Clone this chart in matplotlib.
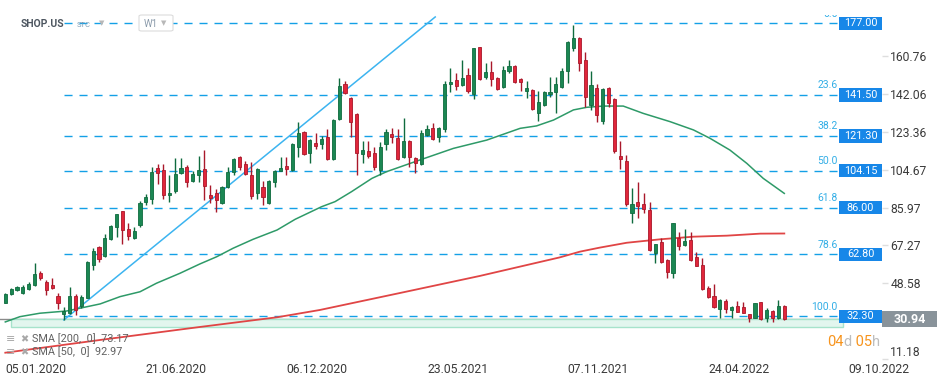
import matplotlib
matplotlib.use('Agg')
import matplotlib.pyplot as plt
from matplotlib.patches import Rectangle, FancyBboxPatch
from matplotlib.transforms import blended_transform_factory
import numpy as np

plt.rcParams['font.family'] = ['Roboto', 'DejaVu Sans']

# weekly candles, SHOP.US, first week 05.01.2020
opens = [39.0, 43.2, 45.1, 43.8, 45.9, 47.6, 53.7, 49.1, 47.7, 42.3,
         33.3, 33.8, 42.3, 37.2, 41.5, 57.8, 66.4, 61.9, 70.3, 76.5,
         84.3, 75.4, 71.1, 77.2, 88.7, 90.2, 105.4, 104.4, 92.0, 94.2,
         103.0, 105.9, 99.2, 102.1, 105.0, 92.2, 93.2, 88.1, 96.3, 103.4,
         110.8, 107.5, 102.1, 93.0, 96.1, 88.1, 98.5, 104.2, 106.5, 104.5,
         115.7, 123.3, 113.1, 117.9, 117.4, 120.7, 110.1, 129.7, 147.0, 140.2,
         132.2, 112.3, 114.1, 112.8, 104.5, 117.2, 122.3, 120.2, 110.8, 118.9,
         110.6, 107.5, 121.8, 125.1, 120.7, 124.6, 146.9, 149.0, 146.5, 151.4,
         142.1, 165.1, 150.3, 152.8, 149.8, 145.7, 153.6, 155.9, 149.3, 143.7,
         144.0, 132.5, 136.8, 142.1, 142.9, 145.7, 153.6, 164.6, 169.6, 158.9,
         136.6, 144.9, 128.9, 144.9, 139.6, 111.4, 109.0, 83.2, 88.9, 87.7,
         84.8, 63.4, 69.1, 60.1, 53.5, 70.8, 67.5, 70.0, 61.4, 57.6,
         46.4, 42.3, 35.7, 39.8, 35.4, 37.5, 37.0, 33.4, 31.6, 39.2,
         31.3, 34.9, 31.3, 37.5]
highs = [43.6, 46.2, 47.2, 47.5, 49.1, 58.6, 54.6, 50.2, 51.2, 43.8,
         37.0, 46.8, 43.5, 42.8, 59.5, 66.0, 66.8, 72.9, 77.4, 83.0,
         84.5, 78.4, 76.2, 89.2, 92.5, 105.9, 107.5, 107.5, 102.1, 110.5,
         110.5, 107.0, 104.2, 111.4, 114.4, 97.1, 95.0, 96.8, 105.9, 110.5,
         111.2, 109.1, 108.6, 105.5, 99.0, 99.6, 104.3, 110.8, 110.8, 117.9,
         128.2, 123.8, 119.7, 122.8, 121.2, 124.8, 129.7, 149.8, 148.6, 140.7,
         132.8, 118.9, 118.9, 116.0, 118.5, 124.8, 125.1, 124.8, 130.1, 119.3,
         111.0, 124.3, 126.7, 127.6, 125.6, 148.5, 154.9, 152.3, 158.9, 155.1,
         165.0, 165.5, 157.2, 158.4, 150.3, 156.0, 158.9, 156.4, 150.1, 148.5,
         144.5, 143.7, 143.4, 150.3, 150.3, 155.1, 168.0, 176.3, 170.4, 162.8,
         153.4, 147.0, 144.8, 145.7, 140.0, 119.0, 111.9, 95.5, 98.5, 93.0,
         88.6, 68.2, 70.8, 60.5, 78.6, 73.8, 75.4, 73.8, 63.9, 60.9,
         47.4, 48.1, 40.7, 40.7, 37.3, 39.8, 39.2, 33.6, 39.0, 39.5,
         36.5, 35.2, 40.3, 37.9]
lows = [38.7, 42.9, 44.8, 43.4, 45.4, 47.4, 50.4, 42.8, 45.8, 35.9,
        30.5, 33.4, 33.1, 36.2, 41.2, 55.1, 59.1, 61.6, 69.9, 71.4,
        68.1, 70.0, 70.5, 76.4, 87.1, 87.9, 97.5, 90.4, 88.6, 93.0,
        102.6, 96.3, 98.6, 98.8, 89.7, 88.1, 83.9, 87.6, 95.5, 102.1,
        104.5, 101.9, 90.2, 90.2, 87.1, 87.6, 96.3, 103.9, 101.9, 104.1,
        110.8, 112.1, 107.8, 114.8, 114.9, 109.4, 109.7, 129.0, 142.2, 120.7,
        102.1, 107.8, 110.3, 104.5, 102.1, 114.4, 117.7, 109.5, 110.3, 106.2,
        102.9, 107.0, 121.3, 119.3, 118.5, 123.3, 143.2, 144.0, 146.0, 142.4,
        139.7, 149.0, 149.3, 146.2, 144.0, 145.2, 152.6, 147.5, 143.7, 140.2,
        134.3, 128.9, 136.3, 140.7, 132.8, 145.2, 147.6, 163.4, 153.6, 135.8,
        134.2, 128.4, 127.3, 135.5, 112.8, 105.2, 86.8, 78.2, 80.7, 83.4,
        64.5, 58.5, 58.8, 51.0, 51.0, 65.0, 67.0, 59.8, 57.0, 45.3,
        41.5, 36.2, 31.3, 33.8, 31.6, 34.2, 33.8, 29.6, 31.3, 30.5,
        29.6, 29.6, 31.0, 30.6]
closes = [43.2, 45.8, 46.7, 46.7, 48.2, 53.2, 51.3, 45.4, 46.4, 38.7,
          34.9, 42.3, 35.4, 41.7, 59.0, 64.4, 60.7, 70.8, 76.9, 82.7,
          75.0, 72.1, 74.4, 88.2, 91.2, 103.4, 102.9, 92.3, 93.2, 102.6,
          105.4, 98.5, 102.6, 104.5, 96.8, 90.7, 89.7, 96.3, 103.5, 110.0,
          106.2, 102.6, 91.8, 105.0, 91.3, 99.1, 103.9, 105.7, 105.2, 117.4,
          123.0, 112.6, 119.2, 116.4, 119.8, 109.8, 129.2, 146.0, 142.7, 128.1,
          112.8, 114.4, 111.4, 106.2, 115.7, 123.2, 120.7, 109.8, 118.9, 110.8,
          108.1, 122.7, 124.8, 119.8, 125.1, 146.9, 148.0, 146.0, 149.8, 143.7,
          164.6, 149.5, 152.8, 149.5, 144.5, 153.9, 155.9, 148.0, 148.1, 145.0,
          134.8, 138.0, 142.9, 143.1, 146.9, 153.4, 167.6, 169.6, 157.5, 140.7,
          146.5, 131.7, 144.4, 137.5, 114.1, 109.8, 87.6, 87.6, 86.9, 85.1,
          65.0, 67.8, 59.2, 54.0, 78.2, 67.1, 69.5, 60.1, 57.3, 45.6,
          42.0, 37.0, 40.3, 35.7, 37.0, 34.6, 34.1, 31.3, 38.7, 30.9,
          35.4, 31.6, 37.5, 30.94]

tick_weeks = [0, 24, 48, 72, 96, 120, 144]
tick_dates = ['05.01.2020', '21.06.2020', '06.12.2020', '23.05.2021',
              '07.11.2021', '24.04.2022', '09.10.2022']
ytick_vals = [11.18, 48.58, 67.27, 85.97, 104.67, 123.36, 142.06, 160.76]

fib_pct = ['0.0', '23.6', '38.2', '50.0', '61.8', '78.6', '100.0']
fib_vals = [177.00, 141.50, 121.30, 104.15, 86.00, 62.80, 32.30]

# moving averages (week, value)
sma50_weeks = [0, 2.5, 5.9, 10.5, 16.2, 19.6, 23.0, 25.8, 29.8, 33.2, 36.1,
               38.9, 42.3, 46.4, 49.5, 54.0, 56.3, 59.1, 62.6, 65.1, 70.8,
               76.5, 82.2, 87.9, 90.7, 93.6, 97.0, 99.3, 102.1, 105.5, 108.9,
               113.5, 117.5, 120.3, 123.7, 126.6, 129.4, 133]
sma50_vals = [29.5, 32.1, 33.8, 34.9, 38.4, 42.0, 44.4, 48.6, 53.5, 58.1, 61.7,
              65.9, 70.3, 74.9, 80.2, 86.4, 88.9, 93.8, 100.4, 103.7, 109.5,
              115.2, 119.3, 125.1, 126.3, 129.2, 134.2, 135.5, 136.1, 136.1, 132.5,
              128.4, 124.3, 120.2, 114.4, 107.8, 100.4, 92.97]
sma200_weeks = [0, 16.2, 33.2, 46.4, 53.7, 67.4, 81.0, 94.7, 98.1, 101.5,
                106.1, 111.8, 117.5, 123.2, 128.9, 133]
sma200_vals = [14.3, 20.6, 27.0, 31.8, 35.4, 43.8, 52.2, 61.4, 64.2, 66.2,
               68.6, 70.3, 71.6, 72.1, 73.1, 73.17]

trend_weeks = [10, 73.4]
trend_vals = [30.5, 180.1]

zone_weeks = [1, 143]
zone_vals = [26.85, 31.1]
last_price = 30.94

W, H = 949, 385
fig = plt.figure(figsize=(W / 100, H / 100), dpi=100)
ax = fig.add_axes([0, (H - 360) / H, 882 / W, 345 / H])
ax.set_xlim(-0.905, 149.68)
ax.set_ylim(10.70, 181.07)
for s in ax.spines.values():
    s.set_visible(False)
bt = blended_transform_factory(ax.transAxes, ax.transData)

x = np.arange(len(opens))
o = np.array(opens)
c = np.array(closes)
up = c >= o

# zone + last price line
ax.axhline(last_price, color='#8a8a8a', lw=1.0, zorder=1)
ax.add_patch(Rectangle((zone_weeks[0], zone_vals[0]), zone_weeks[1] - zone_weeks[0],
                       zone_vals[1] - zone_vals[0], fc='#e2f6ee', ec='#a6e3cb',
                       lw=1.0, zorder=1.5))

# fibonacci levels
fib_end = 142.2
for pct, v in zip(fib_pct, fib_vals):
    ax.plot([trend_weeks[0], fib_end], [v, v], color='#14a0e6', lw=1.0,
            dashes=(5.8, 5.0), zorder=2)
    t = ax.text(fib_end - 0.1, v + 2.3, pct, ha='right', va='bottom',
                fontsize=7.5, color='#33aee6')
    t.set_clip_box(ax.bbox)
    t.set_clip_on(True)
    ax.add_patch(Rectangle((839 / 882, v - 3.3), 43 / 882, 6.6, transform=bt,
                           fc='#1787e8', ec='none', clip_on=False, zorder=6))
    ax.text(860.5 / 882, v, f'{v:.2f}', transform=bt, ha='center', va='center',
            color='white', fontsize=7.8, zorder=7, clip_on=False)

# trend line
ax.plot(trend_weeks, trend_vals, color='#3cb4f0', lw=1.1, zorder=2.5)

# moving averages
ax.plot(sma200_weeks, sma200_vals, color='#e04545', lw=1.3, zorder=2.6)
ax.plot(sma50_weeks, sma50_vals, color='#2e9a68', lw=1.1, zorder=2.6)

# candles
body_c = np.where(up, '#1b8753', '#e0263b')
edge_c = np.where(up, '#0f6b3e', '#a9182a')
ax.vlines(x, lows, highs, colors=edge_c, lw=1.0, zorder=3)
ax.bar(x, np.maximum(np.abs(c - o), 0.9), 0.55, bottom=np.minimum(o, c),
       color=body_c, edgecolor=edge_c, linewidth=0.6, zorder=4)

# axes ticks
ax.yaxis.tick_right()
ax.set_yticks(ytick_vals, [f'{v:.2f}' for v in ytick_vals])
ax.tick_params(axis='y', length=4, width=1, color='#dedede', pad=2,
               labelsize=8.7, labelcolor='#3a3a3a')
ax.get_yticklabels()[0].set_va('bottom')
ax.set_xticks(tick_weeks, tick_dates)
ax.tick_params(axis='x', length=0, pad=2.5, labelsize=8.7, labelcolor='#3a3a3a')
for lbl in ax.get_xticklabels():
    lbl.set_ha('left')

# last price box
ax.add_patch(Rectangle((1.0, last_price - 4.0), 55 / 882, 8.0, transform=bt,
                       fc='#89939a', ec='none', clip_on=False, zorder=6))
ax.text(909.5 / 882, last_price, f'{last_price:.2f}', transform=bt, ha='center',
        va='center', color='white', fontsize=9, fontweight='bold', zorder=7)

# countdown
t1 = fig.text(827 / W, 1 - 346 / H, '04', fontsize=10.5, color='#f7941d', va='baseline')
t2 = ax.annotate('d', xy=(1, 0), xycoords=t1, va='bottom', ha='left',
                 fontsize=10.5, color='#bdbdbd')
t3 = ax.annotate(' 05', xy=(1, 0), xycoords=t2, va='bottom', ha='left',
                 fontsize=10.5, color='#f7941d')
ax.annotate('h', xy=(1, 0), xycoords=t3, va='bottom', ha='left',
            fontsize=10.5, color='#bdbdbd')

# header
fig.text(21 / W, 1 - 24 / H, 'SHOP.US', fontsize=7.5, fontweight='bold',
         color='#4d5660', va='center')
fig.text(77 / W, 1 - 25 / H, 'STC', fontsize=5.5, color='#7e9cb4', va='center')
fig.text(99 / W, 1 - 24 / H, '▼', fontsize=5, color='#b8b8b8', va='center')
fig.patches.append(FancyBboxPatch((139 / W, 1 - 31 / H), 34 / W, 16 / H,
                                  boxstyle='round,pad=0,rounding_size=0.003',
                                  transform=fig.transFigure, fc='white',
                                  ec='#dcdcdc', lw=0.8, zorder=5))
fig.text(144 / W, 1 - 24 / H, 'W1', fontsize=7, color='#8a9aaa', va='center', zorder=6)
fig.text(161 / W, 1 - 24 / H, '▼', fontsize=5, color='#b8b8b8', va='center', zorder=6)

# legend
for yy, lab in [(339, 'SMA [200,  0]  73.17'), (352, 'SMA [50,  0]  92.97')]:
    fig.text(6 / W, 1 - yy / H, '≡', fontsize=8, color='#a8a8a8', va='center')
    fig.text(20 / W, 1 - yy / H, '✖', fontsize=7, color='#a8a8a8', va='center')
    fig.text(32 / W, 1 - yy / H, lab, fontsize=7.8, color='#606060', va='center')

fig.savefig('out.png', dpi=100, facecolor='white')
